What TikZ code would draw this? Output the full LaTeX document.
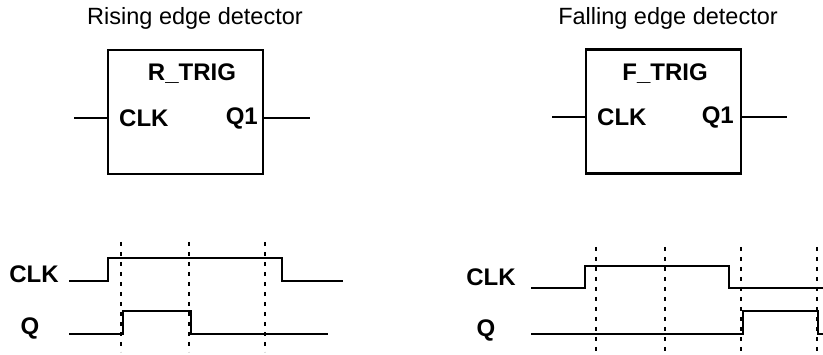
\documentclass[tikz,border=0pt]{standalone}
\usepackage{fontspec}
\setmainfont{Liberation Sans}
\begin{document}
\begin{tikzpicture}[x=1pt,y=-1pt,
  fb/.style={draw,line width=2.2pt,minimum width=155pt,minimum height=124pt,inner sep=0pt},
  lbl/.style={inner sep=0pt,font=\fontsize{24}{26}\selectfont\bfseries},
  ttl/.style={inner sep=0pt,font=\fontsize{23.5}{26}\selectfont},
  wire/.style={line width=2.2pt},
  wave/.style={line width=2.2pt},
  guide/.style={line width=2.2pt,dash pattern=on 4pt off 6pt}]
\useasboundingbox (0,0) rectangle (823,355);
% ---------- Rising edge ----------
\node[ttl] (rtitle) at (195,18) {Rising edge detector};
\node[fb] (rbox) at (185.5,112) {};
\node[lbl] (rname) at (192,74) {R\_TRIG};
\node[lbl,anchor=west] (rclk) at (119,118) {CLK};
\node[lbl,anchor=east] (rq) at (258,118) {Q1};
\coordinate (rin) at (74,118);
\coordinate (rout) at (310,118);
\draw[wire] (rin) -- (rin -| rbox.west);
\draw[wire] (rbox.east |- rout) -- (rout);
% timing
\node[lbl] (rtclk) at (34,274) {CLK};
\node[lbl] (rtq) at (30,328) {Q};
\draw[wave] (69,281) -- (108,281) -- (108,258) -- (282,258) -- (282,281) -- (343,281);
\draw[wave] (69,334) -- (123,334) -- (123,311) -- (191,311) -- (191,334) -- (328,334);
\foreach \x in {121,189,265} \draw[guide] (\x,242) -- (\x,352);
% ---------- Falling edge ----------
\node[ttl] (ftitle) at (668,18) {Falling edge detector};
\node[fb] (fbox) at (663.5,111.5) {};
\node[lbl] (fname) at (665,74) {F\_TRIG};
\node[lbl,anchor=west] (fclk) at (597,117) {CLK};
\node[lbl,anchor=east] (fq) at (734,117) {Q1};
\coordinate (fin) at (552,117);
\coordinate (fout) at (787,117);
\draw[wire] (fin) -- (fin -| fbox.west);
\draw[wire] (fbox.east |- fout) -- (fout);
% timing
\node[lbl] (ftclk) at (491,277) {CLK};
\node[lbl] (ftq) at (486,330) {Q};
\draw[wave] (531,288) -- (585,288) -- (585,266) -- (729,266) -- (729,288) -- (825,288);
\draw[wave] (531,334) -- (743,334) -- (743,311) -- (818,311) -- (818,334) -- (825,334);
\foreach \x in {596,665,741,817} \draw[guide] (\x,247) -- (\x,357);
\end{tikzpicture}
\end{document}
